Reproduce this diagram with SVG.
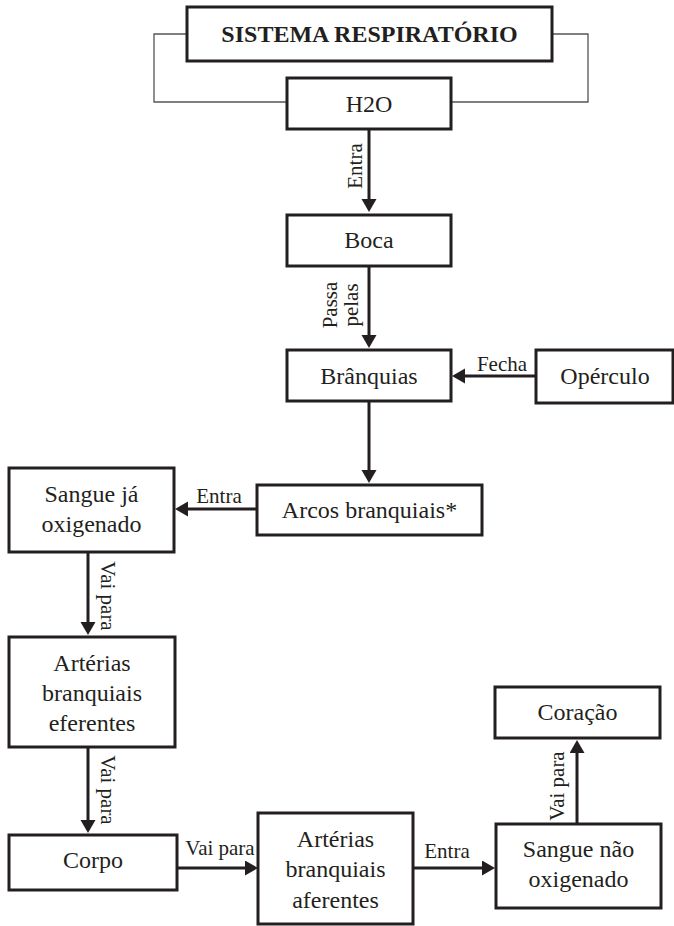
<svg xmlns="http://www.w3.org/2000/svg" width="674" height="926" viewBox="0 0 674 926">
<style>
text{font-family:"Liberation Serif","Times New Roman",serif;fill:#231f20;text-anchor:middle}
.box{fill:#fff;stroke:#231f20;stroke-width:3}
.nt{font-size:24px}
.tb{font-weight:bold}
.lbl{font-size:21px}
.c{fill:none;stroke:#231f20;stroke-width:3;marker-end:url(#ah)}
.br{fill:none;stroke:#555;stroke-width:1.3}
</style>
<defs>
<marker id="ah" markerUnits="userSpaceOnUse" markerWidth="14" markerHeight="16" refX="5" refY="7.5" orient="auto">
<path d="M0,0 L13,7.5 L0,15 z" fill="#231f20"/>
</marker>
</defs>
<rect width="674" height="926" fill="#fff"/>
<g id="connectors">
<path class="br" d="M187,34 H154 V102 H287"/>
<path class="br" d="M552,34 H588 V102 H451"/>
<path class="c" d="M369,129 V204"/>
<path class="c" d="M369,266 V340"/>
<path class="c" d="M536,376 H460"/>
<path class="c" d="M369,401 V475"/>
<path class="c" d="M257,509 H183"/>
<path class="c" d="M88,552 V627"/>
<path class="c" d="M88,747 V825"/>
<path class="c" d="M177,868 H250"/>
<path class="c" d="M413,868 H487"/>
<path class="c" d="M577,824 V748"/>
<text class="lbl" transform="translate(362,166) rotate(-90)">Entra</text>
<text class="lbl" transform="translate(337,305) rotate(-90)">Passa</text>
<text class="lbl" transform="translate(358,305) rotate(-90)">pelas</text>
<text class="lbl" x="502" y="371">Fecha</text>
<text class="lbl" x="219" y="503">Entra</text>
<text class="lbl" transform="translate(101,596) rotate(90)">Vai para</text>
<text class="lbl" transform="translate(101,790) rotate(90)">Vai para</text>
<text class="lbl" x="220" y="855">Vai para</text>
<text class="lbl" x="447" y="858">Entra</text>
<text class="lbl" transform="translate(564,786) rotate(-90)">Vai para</text>
</g>
<g id="titulo"><rect class="box" x="187" y="7" width="365" height="54"/><text class="nt tb" x="369.5" y="42">SISTEMA RESPIRATÓRIO</text></g>
<g id="h2o"><rect class="box" x="287" y="78" width="164" height="51"/><text class="nt" x="369" y="112">H2O</text></g>
<g id="boca"><rect class="box" x="287" y="215" width="164" height="51"/><text class="nt" x="369" y="248">Boca</text></g>
<g id="branquias"><rect class="box" x="287" y="350" width="164" height="51"/><text class="nt" x="369" y="384">Brânquias</text></g>
<g id="operculo"><rect class="box" x="536" y="350" width="137" height="53"/><text class="nt" x="605" y="384">Opérculo</text></g>
<g id="arcos"><rect class="box" x="257" y="485" width="225" height="50"/><text class="nt" x="369.5" y="518">Arcos branquiais*</text></g>
<g id="sangue-oxigenado"><rect class="box" x="9" y="468" width="165" height="84"/><text class="nt" x="91.5" y="502">Sangue já</text><text class="nt" x="91.5" y="532">oxigenado</text></g>
<g id="arterias-eferentes"><rect class="box" x="9" y="637" width="166" height="110"/><text class="nt" x="92" y="671">Artérias</text><text class="nt" x="92" y="701">branquiais</text><text class="nt" x="92" y="731">eferentes</text></g>
<g id="corpo"><rect class="box" x="9" y="835" width="168" height="55"/><text class="nt" x="93" y="868">Corpo</text></g>
<g id="arterias-aferentes"><rect class="box" x="258" y="813" width="155" height="111"/><text class="nt" x="335.5" y="847">Artérias</text><text class="nt" x="335.5" y="877">branquiais</text><text class="nt" x="335.5" y="908">aferentes</text></g>
<g id="sangue-nao-oxigenado"><rect class="box" x="496" y="824" width="165" height="84"/><text class="nt" x="578.5" y="857">Sangue não</text><text class="nt" x="578.5" y="887">oxigenado</text></g>
<g id="coracao"><rect class="box" x="495" y="687" width="165" height="51"/><text class="nt" x="577.5" y="720">Coração</text></g>
</svg>
